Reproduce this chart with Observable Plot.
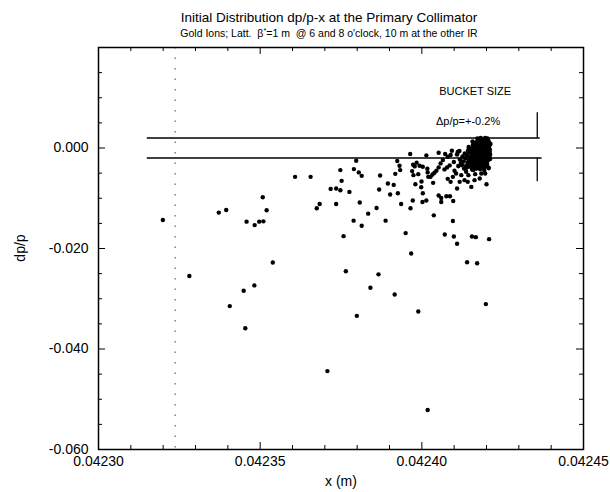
<!DOCTYPE html>
<html>
<head>
<meta charset="utf-8">
<script src="https://cdn.jsdelivr.net/npm/d3@7"></script>
<script src="https://cdn.jsdelivr.net/npm/@observablehq/plot@0.6"></script>
<style>
  html, body { margin: 0; padding: 0; background: white; }
  #wrap { position: relative; width: 610px; height: 492px; font-family: 'Liberation Sans', Arial, Helvetica, sans-serif; color: black; }
  .ov { position: absolute; white-space: nowrap; transform: translate(-50%, -50%); }
  sup { font-size: 0.7em; vertical-align: 0.5em; line-height: 0; }
</style>
</head>
<body>
<div id="wrap">
  <div id="chart"></div>
  <div class="ov" style="left:329px; top:17px; font-size:13.5px;">Initial Distribution dp/p-x at the Primary Collimator</div>
  <div class="ov" style="left:329px; top:33px; font-size:10.5px;">Gold Ions; Latt.&nbsp; β<sup>*</sup>=1 m&nbsp; @ 6 and 8 o'clock, 10 m at the other IR</div>
  <div class="ov" style="left:341px; top:481px; font-size:14px;">x (m)</div>
  <div class="ov" style="left:20px; top:248px; font-size:14px; transform: translate(-50%, -50%) rotate(-90deg);">dp/p</div>
</div>
<script>
// ---- data ----
const xMajorTicks = [0.04230, 0.04235, 0.04240, 0.04245];
const xMinorTicks = [0.04231, 0.04232, 0.04233, 0.04234, 0.04236, 0.04237, 0.04238, 0.04239, 0.04241, 0.04242, 0.04243, 0.04244];
const yMajorTicks = [-0.060, -0.040, -0.020, 0.000];
const yMinorTicks = [-0.055, -0.050, -0.045, -0.035, -0.030, -0.025, -0.015, -0.010, -0.005, 0.005, 0.010, 0.015];

// scattered particles [x (m), dp/p]
const haloParticles = [
  [0.0423199,-0.01434],[0.0423372,-0.01286],[0.0423395,-0.01234],[0.0423458,-0.01466],
  [0.0423483,-0.01534],[0.0423497,-0.01466],[0.0423510,-0.01460],[0.0423508,-0.00980],
  [0.0423520,-0.01240],[0.0423608,-0.00574],[0.0423656,-0.00574],[0.0423539,-0.02280],
  [0.0423281,-0.02546],[0.0423449,-0.02840],[0.0423482,-0.02734],[0.0423675,-0.01200],
  [0.0423684,-0.01114],[0.0423735,-0.01114],[0.0423718,-0.00814],[0.0423735,-0.00806],
  [0.0423748,-0.00840],[0.0423776,-0.00874],[0.0423752,-0.00654],[0.0423748,-0.00440],
  [0.0423790,-0.00420],[0.0423805,-0.00486],[0.0423814,-0.00554],[0.0423797,-0.00254],
  [0.0423808,-0.01086],[0.0423789,-0.01446],[0.0423814,-0.01546],[0.0423758,-0.01754],
  [0.0423765,-0.02454],[0.0423834,-0.01306],[0.0423860,-0.01194],[0.0423888,-0.01446],
  [0.0423868,-0.00826],[0.0423871,-0.00546],[0.0423895,-0.00706],[0.0423913,-0.00734],
  [0.0423902,-0.00926],[0.0423926,-0.00900],[0.0423936,-0.01114],[0.0423918,-0.00514],
  [0.0423931,-0.00354],[0.0423933,-0.00440],[0.0423924,-0.00260],[0.0423950,-0.01694],
  [0.0423967,-0.02100],[0.0423965,-0.01200],[0.0423972,-0.01046],[0.0424002,-0.01074],
  [0.0424014,-0.01046],[0.0424003,-0.00900],[0.0423998,-0.00780],[0.0423999,-0.00666],
  [0.0423980,-0.00720],[0.0423970,-0.00460],[0.0423974,-0.00540],[0.0423978,-0.00366],
  [0.0423973,-0.00334],[0.0423993,-0.00354],[0.0423984,-0.00294],[0.0424017,-0.00414],
  [0.0424020,-0.00574],[0.0424018,-0.00486],[0.0423964,-0.00120],[0.0424014,-0.00146],
  [0.0423866,-0.02514],[0.0423841,-0.02780],[0.0423916,-0.02914],[0.0423406,-0.03146],
  [0.0423454,-0.03586],[0.0423799,-0.03340],[0.0423989,-0.03254],[0.0424198,-0.03106],
  [0.0423708,-0.04440],[0.0424018,-0.05214],
  [0.0424052,-0.00094],[0.0424072,-0.00120],[0.0424093,-0.00054],[0.0424111,-0.00080],
  [0.0424080,-0.00174],[0.0424089,-0.00140],[0.0424027,-0.00574],[0.0424033,-0.00526],
  [0.0424039,-0.00494],[0.0424045,-0.00454],[0.0424052,-0.00386],[0.0424058,-0.00306],
  [0.0424065,-0.00240],[0.0424070,-0.00426],[0.0424078,-0.00386],[0.0424086,-0.00346],
  [0.0424099,-0.00280],[0.0424101,-0.00454],[0.0424106,-0.00506],[0.0424096,-0.00574],
  [0.0424080,-0.00614],[0.0424089,-0.00674],[0.0424035,-0.00694],[0.0424052,-0.00946],
  [0.0424060,-0.00994],[0.0424076,-0.00960],[0.0424087,-0.00960],[0.0424060,-0.01074],
  [0.0424097,-0.01054],[0.0424109,-0.00806],[0.0424117,-0.00674],[0.0424132,-0.00640],
  [0.0424142,-0.00674],[0.0424153,-0.00774],[0.0424163,-0.00640],[0.0424122,-0.00540],
  [0.0424137,-0.00474],[0.0424144,-0.00540],[0.0424165,-0.00520],[0.0424184,-0.00506],
  [0.0424196,-0.00506],[0.0424200,-0.00720],[0.0424179,-0.00606],[0.0424159,-0.00440],
  [0.0424037,-0.01340],[0.0424096,-0.01454],[0.0424071,-0.01720],[0.0424099,-0.01760],
  [0.0424109,-0.01906],[0.0424155,-0.01760],[0.0424167,-0.01774],[0.0424208,-0.01814],
  [0.0424140,-0.02274],[0.0424171,-0.02294],[0.0423989,-0.00520],[0.0424003,-0.00374]
];

// dense core near the collimator edge [x (m), dp/p]
const coreParticles = [
  [0.0424185,0.0018],[0.0424192,0.0017],[0.0424178,0.0015],[0.0424199,0.0016],[0.0424206,0.0014],
  [0.0424170,0.0012],[0.0424188,0.0011],[0.0424196,0.0010],[0.0424181,0.0008],[0.0424203,0.0007],
  [0.0424164,0.0009],[0.0424174,0.0005],[0.0424191,0.0004],[0.0424208,0.0003],[0.0424158,0.0006],
  [0.0424183,0.0001],[0.0424198,-0.0001],[0.0424167,0.0000],[0.0424176,-0.0003],[0.0424189,-0.0004],
  [0.0424205,-0.0005],[0.0424152,-0.0002],[0.0424161,-0.0006],[0.0424171,-0.0008],[0.0424184,-0.0009],
  [0.0424196,-0.0010],[0.0424210,-0.0008],[0.0424146,-0.0009],[0.0424155,-0.0012],[0.0424166,-0.0013],
  [0.0424179,-0.0014],[0.0424192,-0.0015],[0.0424201,-0.0013],[0.0424140,-0.0015],[0.0424150,-0.0018],
  [0.0424162,-0.0019],[0.0424174,-0.0020],[0.0424187,-0.0019],[0.0424199,-0.0021],[0.0424209,-0.0018],
  [0.0424135,-0.0021],[0.0424147,-0.0024],[0.0424158,-0.0025],[0.0424170,-0.0026],[0.0424182,-0.0024],
  [0.0424194,-0.0027],[0.0424204,-0.0025],[0.0424129,-0.0027],[0.0424142,-0.0030],[0.0424153,-0.0031],
  [0.0424166,-0.0032],[0.0424178,-0.0030],[0.0424190,-0.0033],[0.0424201,-0.0031],[0.0424124,-0.0034],
  [0.0424137,-0.0036],[0.0424149,-0.0037],[0.0424161,-0.0038],[0.0424173,-0.0036],[0.0424186,-0.0039],
  [0.0424197,-0.0037],[0.0424207,-0.0040],[0.0424131,-0.0041],[0.0424156,-0.0043],[0.0424180,-0.0042],
  [0.0424193,-0.0044],[0.0424187,0.0013],[0.0424195,0.0007],[0.0424179,0.0003],[0.0424200,0.0001],
  [0.0424186,-0.0002],[0.0424172,-0.0005],[0.0424193,-0.0007],[0.0424180,-0.0011],[0.0424204,-0.0011],
  [0.0424168,-0.0016],[0.0424185,-0.0017],[0.0424196,-0.0023],[0.0424177,-0.0022],[0.0424163,-0.0022],
  [0.0424189,-0.0028],[0.0424172,-0.0029],[0.0424157,-0.0034],[0.0424183,-0.0035],[0.0424202,-0.0034],
  [0.0424145,-0.0027],[0.0424139,-0.0039],[0.0424168,-0.0041],[0.0424210,-0.0003],[0.0424211,-0.0022],
  [0.0424175,0.0017],[0.0424203,0.0019],[0.0424160,0.0003],[0.0424154,-0.0007],[0.0424143,-0.0005],
  [0.0424133,-0.0011],[0.0424126,-0.0017],[0.0424118,-0.0023],[0.0424121,-0.0030],[0.0424113,-0.0036],
  [0.0424109,-0.0013],[0.0424116,-0.0006],
  [0.0424182,0.0020],[0.0424196,0.0020],[0.0424172,0.0019],[0.0424209,0.0010],[0.0424184,0.0005],
  [0.0424168,0.0006],[0.0424200,0.0004],[0.0424175,0.0009],[0.0424191,-0.0001],[0.0424178,-0.0006],
  [0.0424201,-0.0006],[0.0424164,-0.0003],[0.0424188,-0.0012],[0.0424173,-0.0011],[0.0424158,-0.0015],
  [0.0424194,-0.0018],[0.0424180,-0.0018],[0.0424206,-0.0021],[0.0424167,-0.0023],[0.0424153,-0.0021],
  [0.0424185,-0.0025],[0.0424199,-0.0029],[0.0424176,-0.0033],[0.0424162,-0.0029],[0.0424192,-0.0035],
  [0.0424150,-0.0003],[0.0424145,0.0002],[0.0424157,0.0013],[0.0424212,0.0008],[0.0424211,-0.0013]
];

// bucket size limits (dp/p = ±0.2%) drawn as horizontal segments
const bucketLimits = [
  {dp: 0.002, x1: 0.0423151, x2: 0.0424366},
  {dp: -0.002, x1: 0.0423151, x2: 0.0424372}
];
const bucketMarkers = [
  {x: 0.0424357, y1: 0.002, y2: 0.0070},
  {x: 0.0424357, y1: -0.002, y2: -0.0067}
];
const collimatorX = [0.0423237];
const annotations = [
  {text: "BUCKET SIZE", x: 0.0424165, y: 0.01122},
  {text: "Δp/p=+-0.2%", x: 0.0424143, y: 0.00524}
];

// ---- chart ----
const innerH = 492 - 47 - 43;
const innerW = 610 - 98 - 27;
const chart = Plot.plot({
  width: 610,
  height: 492,
  marginTop: 47,
  marginBottom: 43,
  marginLeft: 98,
  marginRight: 27,
  style: {fontFamily: "'Liberation Sans', Arial, Helvetica, sans-serif", fontSize: "14px", color: "black", background: "white"},
  x: {domain: [0.04230, 0.04245]},
  y: {domain: [-0.060, 0.020]},
  marks: [
    Plot.ruleX(collimatorX, {x: d => d, stroke: "#444", strokeWidth: 1, strokeDasharray: "1.5,9"}),
    // inward ticks bottom/top
    Plot.ruleX(xMajorTicks, {x: d => d, insetTop: innerH - 7, stroke: "black"}),
    Plot.ruleX(xMinorTicks, {x: d => d, insetTop: innerH - 4, stroke: "black"}),
    Plot.ruleX(xMajorTicks, {x: d => d, insetBottom: innerH - 7, stroke: "black"}),
    Plot.ruleX(xMinorTicks, {x: d => d, insetBottom: innerH - 4, stroke: "black"}),
    // inward ticks left/right
    Plot.ruleY(yMajorTicks, {y: d => d, insetRight: innerW - 7, stroke: "black"}),
    Plot.ruleY(yMinorTicks, {y: d => d, insetRight: innerW - 4, stroke: "black"}),
    Plot.ruleY(yMajorTicks, {y: d => d, insetLeft: innerW - 7, stroke: "black"}),
    Plot.ruleY(yMinorTicks, {y: d => d, insetLeft: innerW - 4, stroke: "black"}),
    Plot.frame({stroke: "black", strokeWidth: 1.5}),
    Plot.axisX(xMajorTicks, {tickSize: 0, tickPadding: 7, tickFormat: d => d.toFixed(5), label: null, fontSize: 14}),
    Plot.axisY(yMajorTicks, {tickSize: 0, tickPadding: 10, tickFormat: d => d.toFixed(3), label: null, fontSize: 14}),
    Plot.ruleY(bucketLimits, {y: "dp", x1: "x1", x2: "x2", stroke: "black", strokeWidth: 1.6}),
    Plot.ruleX(bucketMarkers, {x: "x", y1: "y1", y2: "y2", stroke: "black", strokeWidth: 1.3}),
    Plot.dot(haloParticles, {x: d => d[0], y: d => d[1], r: 2.2, fill: "black", stroke: "none"}),
    Plot.dot(coreParticles, {x: d => d[0], y: d => d[1], r: 2.3, fill: "black", stroke: "none"}),
    Plot.text(annotations, {x: "x", y: "y", text: "text", fontSize: 11, fill: "black"})
  ]
});
document.getElementById("chart").appendChild(chart);
</script>
</body>
</html>
